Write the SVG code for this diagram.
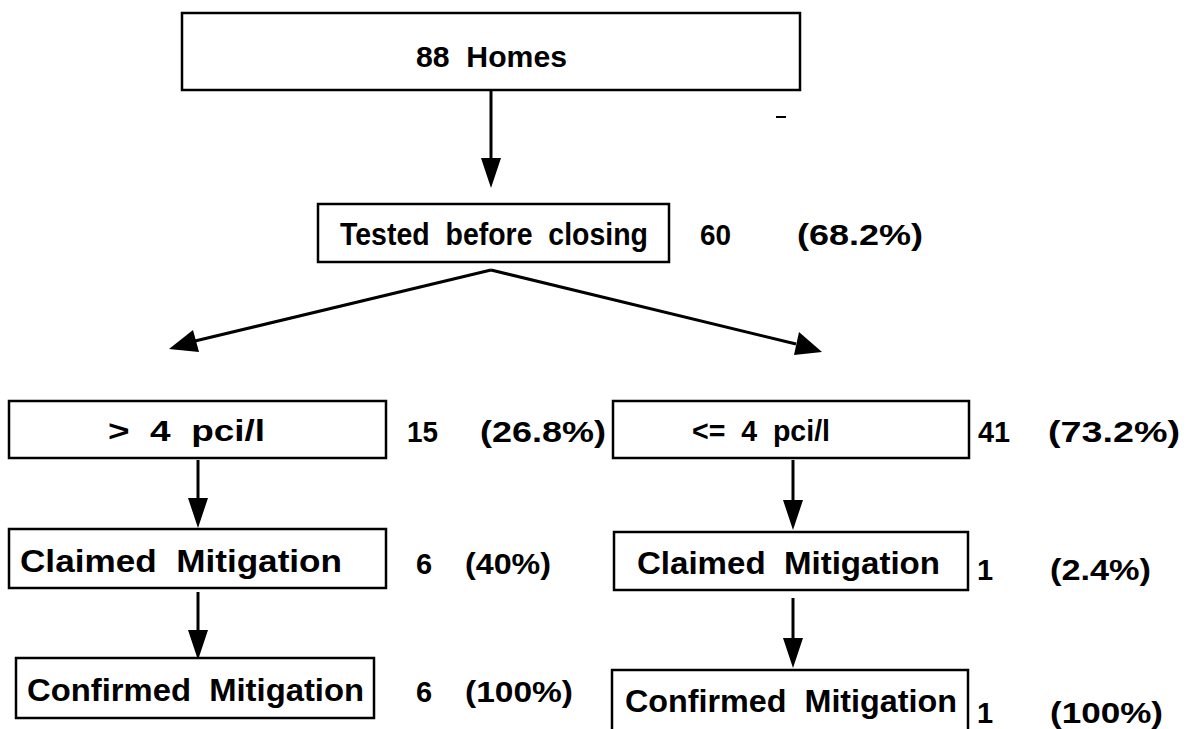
<svg xmlns="http://www.w3.org/2000/svg" width="1193" height="729" viewBox="0 0 1193 729">
<style>
.box{fill:#fff;stroke:#000;stroke-width:2.5}
.t{font-family:"Liberation Sans",Arial,sans-serif;font-weight:bold;font-size:32px;fill:#000}
.n{font-family:"Liberation Sans",Arial,sans-serif;font-weight:bold;font-size:29px;fill:#000}
.c{stroke:#000;stroke-width:3;fill:none}
.h{fill:#000}
</style>
<rect width="1193" height="729" fill="#fff"/>
<g id="connectors">
<line class="c" x1="491" y1="91" x2="491" y2="160"/><polygon class="h" points="481,158 501,158 491,188"/>
<line class="c" x1="491" y1="270" x2="195" y2="341"/><polygon class="h" points="169,349 193,330 199,352"/>
<line class="c" x1="491" y1="270" x2="796" y2="344"/><polygon class="h" points="822,352 799,332 794,355"/>
<line class="c" x1="198" y1="460" x2="198" y2="500"/><polygon class="h" points="188,498 208,498 198,528"/>
<line class="c" x1="198" y1="592" x2="198" y2="632"/><polygon class="h" points="188,630 208,630 198,660"/>
<line class="c" x1="793" y1="460" x2="793" y2="502"/><polygon class="h" points="783,500 803,500 793,530"/>
<line class="c" x1="793" y1="598" x2="793" y2="640"/><polygon class="h" points="783,638 803,638 793,668"/>
<line class="c" x1="776" y1="117" x2="786" y2="117" style="stroke-width:2"/>
</g>
<g id="n1"><rect class="box" x="182" y="13" width="618" height="77"/><text class="t" style="font-size:30px" x="416" y="67" textLength="151" lengthAdjust="spacingAndGlyphs" xml:space="preserve">88  Homes</text></g>
<g id="n2"><rect class="box" x="318" y="204" width="351" height="58"/><text class="t" x="340" y="245" textLength="308" lengthAdjust="spacingAndGlyphs" xml:space="preserve">Tested  before  closing</text></g>
<g id="l2"><text class="n" x="700" y="245" textLength="31" lengthAdjust="spacingAndGlyphs">60</text><text class="n" x="797" y="245" textLength="126" lengthAdjust="spacingAndGlyphs">(68.2%)</text></g>
<g id="n3"><rect class="box" x="9" y="401" width="377" height="57"/><text class="t" style="font-size:29px" x="108" y="441" textLength="157" lengthAdjust="spacingAndGlyphs" xml:space="preserve">&gt;  4  pci/l</text></g>
<g id="l3"><text class="n" x="407" y="442" textLength="31" lengthAdjust="spacingAndGlyphs">15</text><text class="n" x="480" y="442" textLength="126" lengthAdjust="spacingAndGlyphs">(26.8%)</text></g>
<g id="n4"><rect class="box" x="613" y="401" width="356" height="57"/><text class="t" style="font-size:29px" x="692" y="441" textLength="138" lengthAdjust="spacingAndGlyphs" xml:space="preserve">&lt;=  4  pci/l</text></g>
<g id="l4"><text class="n" x="978" y="442" textLength="32" lengthAdjust="spacingAndGlyphs">41</text><text class="n" x="1048" y="442" textLength="132" lengthAdjust="spacingAndGlyphs">(73.2%)</text></g>
<g id="n5"><rect class="box" x="9" y="529" width="377" height="59"/><text class="t" x="20" y="572" textLength="322" lengthAdjust="spacingAndGlyphs" xml:space="preserve">Claimed  Mitigation</text></g>
<g id="l5"><text class="n" x="416" y="574">6</text><text class="n" x="465" y="574" textLength="86" lengthAdjust="spacingAndGlyphs">(40%)</text></g>
<g id="n6"><rect class="box" x="16" y="658" width="358" height="60"/><text class="t" x="27" y="701" textLength="337" lengthAdjust="spacingAndGlyphs" xml:space="preserve">Confirmed  Mitigation</text></g>
<g id="l6"><text class="n" x="416" y="702">6</text><text class="n" x="465" y="702" textLength="108" lengthAdjust="spacingAndGlyphs">(100%)</text></g>
<g id="n7"><rect class="box" x="614" y="532" width="354" height="58"/><text class="t" x="637" y="574" textLength="303" lengthAdjust="spacingAndGlyphs" xml:space="preserve">Claimed  Mitigation</text></g>
<g id="l7"><text class="n" x="977" y="580">1</text><text class="n" x="1050" y="580" textLength="101" lengthAdjust="spacingAndGlyphs">(2.4%)</text></g>
<g id="n8"><rect class="box" x="612" y="670" width="356" height="80"/><text class="t" x="625" y="712" textLength="332" lengthAdjust="spacingAndGlyphs" xml:space="preserve">Confirmed  Mitigation</text></g>
<g id="l8"><text class="n" x="977" y="723">1</text><text class="n" x="1050" y="723" textLength="113" lengthAdjust="spacingAndGlyphs">(100%)</text></g>
</svg>
